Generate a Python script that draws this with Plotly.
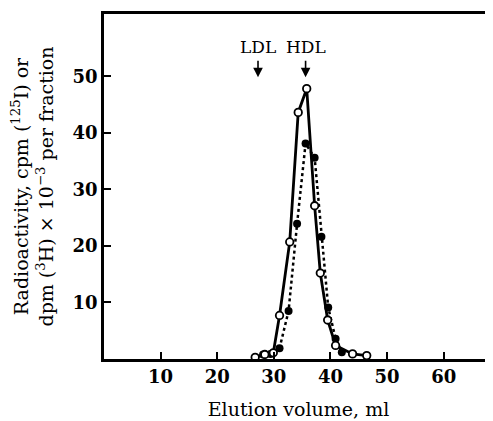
import plotly.graph_objects as go

# Open circles, solid line (125I)
open_x = [26.7, 28.4, 29.9, 31.0, 32.8, 34.3, 35.8, 37.2, 38.2, 39.5, 40.9, 43.9, 46.4]
open_y = [0.3, 0.8, 1.1, 7.7, 20.7, 43.6, 47.8, 27.1, 15.2, 6.9, 2.4, 0.9, 0.6]

# Filled circles, dotted line (3H)
filled_x = [28.1, 29.4, 31.0, 32.6, 34.1, 35.6, 37.2, 38.4, 39.6, 40.9, 42.0]
filled_y = [0.8, 0.9, 1.9, 8.5, 23.9, 38.1, 35.6, 21.6, 9.1, 3.6, 1.2]

x_ticks = [10, 20, 30, 40, 50, 60]
y_ticks = [10, 20, 30, 40, 50]

markers = ["LDL", "HDL"]
marker_x = [27.2, 35.6]

SERIF = "DejaVu Serif"

fig = go.Figure()
fig.add_trace(go.Scatter(
    x=open_x, y=open_y, mode="lines",
    line=dict(color="black", width=2.8),
    showlegend=False, cliponaxis=False, hoverinfo="skip"))
fig.add_trace(go.Scatter(
    x=filled_x, y=filled_y, mode="lines+markers",
    line=dict(color="black", width=2.5, dash="dot"),
    marker=dict(symbol="circle", size=8, color="black"),
    showlegend=False, cliponaxis=False))
fig.add_trace(go.Scatter(
    x=open_x, y=open_y, mode="markers",
    marker=dict(symbol="circle", size=7.5, color="white", line=dict(color="black", width=1.8)),
    showlegend=False, cliponaxis=False))

for name, mx in zip(markers, marker_x):
    fig.add_annotation(x=mx, y=49.8, xref="x", yref="y", ax=0, ay=-30, axref="pixel", ayref="pixel",
                       text=name, showarrow=True, arrowhead=2, arrowsize=1.2, arrowwidth=1.6,
                       arrowcolor="black", startstandoff=2,
                       font=dict(family=SERIF, size=17, color="black"))

fig.update_layout(
    width=485, height=413,
    margin=dict(l=96, r=0, t=6, b=62),
    paper_bgcolor="white", plot_bgcolor="white",
    font=dict(family=SERIF, color="black"),
    xaxis=dict(range=[0, 68.7], tickvals=x_ticks, ticks="inside", ticklen=7, tickwidth=2,
               tickcolor="black", showline=True, linecolor="black", linewidth=2.5, mirror=True,
               showgrid=False, zeroline=False,
               tickfont=dict(family=SERIF, size=18, weight="bold"),
               title=dict(text="Elution volume, ml", font=dict(family=SERIF, size=19), standoff=17)),
    yaxis=dict(range=[0, 61], tickvals=y_ticks, ticks="inside", ticklen=7, tickwidth=2,
               tickcolor="black", showline=True, linecolor="black", linewidth=2.5,
               showgrid=False, zeroline=False,
               tickfont=dict(family=SERIF, size=18, weight="bold"),
               title=dict(text="Radioactivity, cpm (<sup>125</sup>I) or<br>dpm (<sup>3</sup>H) × 10<sup>−3</sup> per fraction",
                          font=dict(family=SERIF, size=19), standoff=22)),
)

fig.write_html("out.html")
